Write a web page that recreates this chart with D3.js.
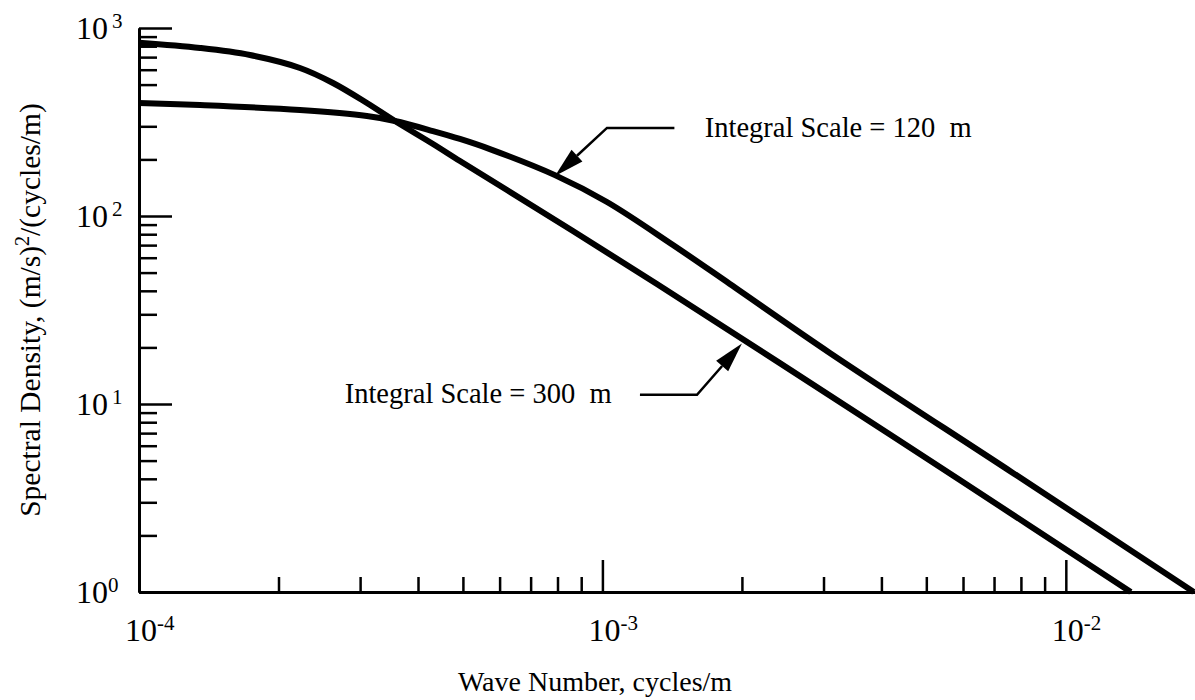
<!DOCTYPE html>
<html>
<head>
<meta charset="utf-8">
<script src="https://cdn.jsdelivr.net/npm/d3@7"></script>
<style>
  body { margin: 0; background: #fff; }
  svg { display: block; font-family: "Liberation Serif", "Times New Roman", serif; }
</style>
</head>
<body>
<svg id="chart" width="1195" height="700"></svg>
<script>
// Von Karman-type turbulence spectra for two integral scales
const waveNumber300 = [1.0e-4, 1.354e-4, 1.736e-4, 2.225e-4, 2.622e-4, 3.103e-4, 3.567e-4, 4.309e-4, 4.927e-4, 6.223e-4, 8.637e-4, 1.311e-3, 2.415e-3, 5.906e-3, 1.381e-2];
const density300    = [835,    783,      718,      613,      510,      399,      320,      241.5,    196,      137.5,    83.2,     43.5,     16.5,     3.94,     1.0];

const waveNumber120 = [1.0e-4, 1.354e-4, 2.225e-4, 3.103e-4, 3.567e-4, 4.309e-4, 4.927e-4, 5.717e-4, 7.898e-4, 1.023e-3, 1.420e-3, 1.884e-3, 3.096e-3, 7.687e-3, 1.889e-2];
const density120    = [399,    389,      366,      340,      320,      283,      257,      227,      165,      118.7,    70.1,     43.5,     18.7,     4.30,     1.0];

const xMajorTicks = [1e-4, 1e-3, 1e-2];
const xTickExponents = ["-4", "-3", "-2"];
const yMajorTicks = [1, 10, 100, 1000];
const yTickExponents = ["0", "1", "2", "3"];

const seriesLabels = ["Integral Scale = 120  m", "Integral Scale = 300  m"];
const xTitle = "Wave Number, cycles/m";

// callouts, in data units: tail, elbow, tip and the label anchor
const callout120 = { tail: [1.43e-3, 294], elbow: [1.023e-3, 294], tip: [7.9e-4, 163], label: [1.663e-3, 263], anchor: "start" };
const callout300 = { tail: [1.205e-3, 11.2], elbow: [1.60e-3, 11.2], tip: [2.0e-3, 21.0], label: [1.047e-3, 10.1], anchor: "end" };

const svg = d3.select("#chart");
const plotLeft = 139, plotRight = 1195, plotTop = 28, plotBottom = 592;

const x = d3.scaleLog().domain([1e-4, 0.019]).range([plotLeft, plotRight]);
const y = d3.scaleLog().domain([1, 1000]).range([plotBottom, plotTop]);

// minor tick positions: 2..9 within each decade
const xMinorTicks = [];
[1e-4, 1e-3].forEach(d => { for (let m = 2; m <= 9; m++) xMinorTicks.push(m * d); });
const yMinorTicks = [];
[1, 10, 100].forEach(d => { for (let m = 2; m <= 9; m++) yMinorTicks.push(m * d); });

// axes with inward ticks
const gx = svg.append("g").attr("transform", `translate(0,${plotBottom})`);
gx.append("g").call(d3.axisBottom(x).tickValues(xMinorTicks).tickSize(-15).tickSizeOuter(0).tickFormat(""));
gx.append("g").call(d3.axisBottom(x).tickValues(xMajorTicks).tickSize(-32).tickSizeOuter(0).tickFormat(""));

const gy = svg.append("g").attr("transform", `translate(${plotLeft},0)`);
gy.append("g").call(d3.axisLeft(y).tickValues(yMinorTicks).tickSize(-18).tickSizeOuter(0).tickFormat(""));
gy.append("g").call(d3.axisLeft(y).tickValues(yMajorTicks).tickSize(-33).tickSizeOuter(0).tickFormat(""));

svg.selectAll(".tick line").attr("stroke", "#000").attr("stroke-width", 2.5);
svg.selectAll(".domain").attr("stroke", "#000").attr("stroke-width", 3);

// tick labels as powers of ten
xMajorTicks.forEach((v, i) => {
  const t = svg.append("text")
    .attr("x", x(v) - 14).attr("y", plotBottom + 49)
    .attr("font-size", 32).attr("fill", "#000");
  t.append("tspan").text("10");
  t.append("tspan").attr("font-size", 21).attr("dy", -11).text(xTickExponents[i]);
});
yMajorTicks.forEach((v, i) => {
  const t = svg.append("text")
    .attr("x", 76).attr("y", y(v) + 11)
    .attr("font-size", 32).attr("fill", "#000");
  t.append("tspan").text("10");
  t.append("tspan").attr("font-size", 21).attr("dx", i === 0 ? 0 : 4).attr("dy", -11).text(yTickExponents[i]);
});

// axis titles
svg.append("text")
  .attr("x", 595).attr("y", 691)
  .attr("text-anchor", "middle").attr("font-size", 28).attr("fill", "#000")
  .text(xTitle);

const yt = svg.append("text")
  .attr("transform", `translate(40,${(plotTop + plotBottom) / 2}) rotate(-90)`)
  .attr("text-anchor", "middle").attr("font-size", 29.5).attr("fill", "#000");
yt.append("tspan").text("Spectral Density, (m/s)");
yt.append("tspan").attr("font-size", 20).attr("dy", -11).text("2");
yt.append("tspan").attr("dy", 11).text("/(cycles/m)");

// spectra
const line = d3.line().x(d => x(d[0])).y(d => y(d[1])).curve(d3.curveCatmullRom.alpha(0.5));
[[waveNumber300, density300], [waveNumber120, density120]].forEach(([k, s]) => {
  svg.append("path")
    .datum(k.map((v, i) => [v, s[i]]))
    .attr("d", line)
    .attr("fill", "none").attr("stroke", "#000")
    .attr("stroke-width", 6).attr("stroke-linejoin", "round");
});

// callouts with filled arrowheads
function callout(c, text) {
  const p = c => [x(c[0]), y(c[1])];
  const tail = p(c.tail), elbow = p(c.elbow), tip = p(c.tip);
  const dx = tip[0] - elbow[0], dy = tip[1] - elbow[1];
  const len = Math.hypot(dx, dy), ux = dx / len, uy = dy / len;
  const headLen = 30, headHalf = 8;
  const base = [tip[0] - ux * headLen, tip[1] - uy * headLen];
  svg.append("path")
    .attr("d", d3.line()([tail, elbow, base]))
    .attr("fill", "none").attr("stroke", "#000").attr("stroke-width", 2.5);
  svg.append("path")
    .attr("d", d3.line()([tip,
      [base[0] - uy * headHalf, base[1] + ux * headHalf],
      [base[0] + uy * headHalf, base[1] - ux * headHalf]]) + "Z")
    .attr("fill", "#000");
  svg.append("text")
    .attr("x", x(c.label[0])).attr("y", y(c.label[1]))
    .attr("text-anchor", c.anchor).attr("font-size", 28.5).attr("fill", "#000")
    .style("white-space", "pre")
    .text(text);
}
callout(callout120, seriesLabels[0]);
callout(callout300, seriesLabels[1]);
</script>
</body>
</html>
